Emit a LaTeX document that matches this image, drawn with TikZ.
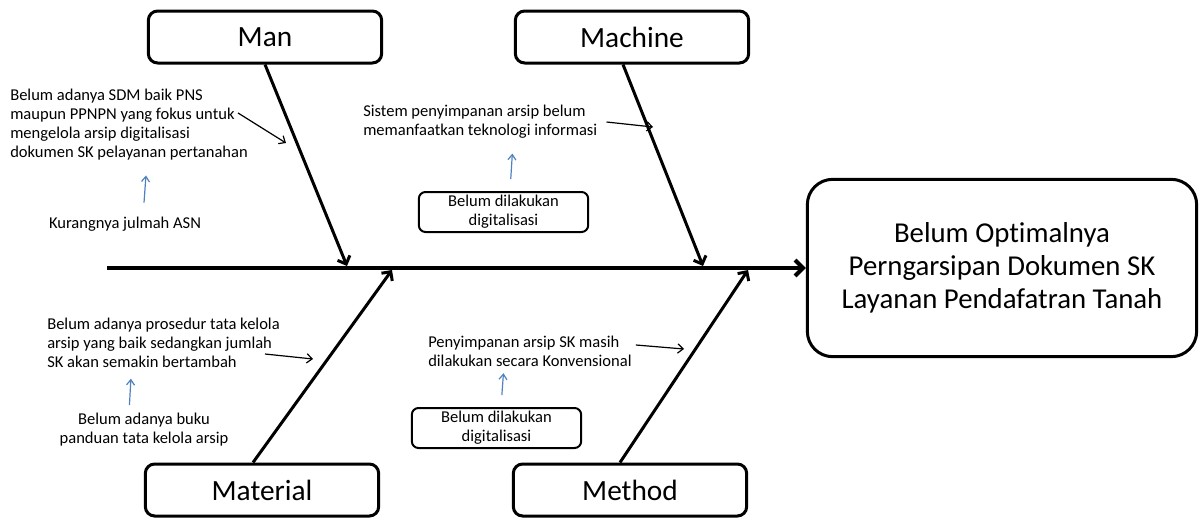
\documentclass[tikz,border=0pt]{standalone}
\usepackage{fontspec}
\setmainfont{Carlito}[Ligatures=NoCommon]
\usetikzlibrary{calc, arrows.meta}
\definecolor{hintblue}{RGB}{79,129,189}

\begin{document}
\begin{tikzpicture}[x=0.75pt, y=-0.75pt,
    catbox/.style={draw, line width=2.25pt, rounded corners=7pt, minimum width=175pt, minimum height=39pt, font=\fontsize{22}{26}\selectfont},
    effectbox/.style={draw, line width=2.25pt, rounded corners=19pt, minimum width=292pt, minimum height=133pt, align=center, font=\fontsize{21.6}{24.75}\selectfont},
    subbox/.style={draw, line width=1.5pt, rounded corners=5pt, minimum width=127pt, minimum height=30pt, align=center, inner sep=1pt, font=\fontsize{12.4}{14.25}\selectfont},
    cause/.style={inner sep=0pt, font=\fontsize{12.4}{14.25}\selectfont},
    spine/.style={line width=3pt, -{Straight Barb[length=6pt, width=12pt]}},
    bone/.style={line width=2.25pt, -{Straight Barb[length=5pt, width=10pt]}},
    note/.style={line width=0.9pt, -{Straight Barb[length=4pt, width=7pt]}},
    hint/.style={line width=0.9pt, hintblue, -{Straight Barb[length=4pt, width=6pt]}}]
    \useasboundingbox (0,0) rectangle (1200,518);

    % Effect box and the main spine
    \node[effectbox] (effect) at (1002,268) {Belum Optimalnya\\Perngarsipan Dokumen SK\\Layanan Pendafatran Tanah};
    \coordinate (tail) at (107,268);
    \draw[spine] (tail) -- (effect.west);

    % Category boxes
    \foreach \name/\x/\y/\txt in {man/265/37/Man, machine/632/37/Machine, material/262/490/Material, method/630/490/Method} {
        \node[catbox] (\name) at (\x,\y) {\txt};
    }

    % Bones into the spine
    \coordinate (manhit) at (347,266);
    \coordinate (machinehit) at (703,266);
    \coordinate (materialhit) at (392,270);
    \coordinate (methodhit) at (748,270);
    \draw[bone] (man.south) -- (manhit);
    \draw[bone] ($(machine.south)+(-9,0)$) -- (machinehit);
    \draw[bone] ($(material.north)+(-9,0)$) -- (materialhit);
    \draw[bone] ($(method.north)+(-10,0)$) -- (methodhit);

    % Causes: Man
    \node[cause, align=left, anchor=west] (mancause) at (10,125) {Belum adanya SDM baik PNS\\maupun PPNPN yang fokus untuk\\mengelola arsip digitalisasi\\dokumen SK pelayanan pertanahan};
    \node[cause] (asn) at (125,224) {Kurangnya julmah ASN};
    \coordinate (manpt) at (286,143);
    \draw[note] ($(mancause.east)+(-10,-12)$) -- (manpt);
    \draw[hint, shorten <=10.5pt, shorten >=11pt] ($(asn.north)+(18,0)$) -- ($(mancause.south)+(18,0)$);

    % Causes: Machine
    \node[cause, align=left, anchor=west] (machinecause) at (363,122) {Sistem penyimpanan arsip belum\\memanfaatkan teknologi informasi};
    \node[subbox] (machinesub) at (503.5,212) {Belum dilakukan\\digitalisasi};
    \coordinate (machinept) at (653,127);
    \draw[note] ($(machinecause.east)+(9,0)$) -- (machinept);
    \draw[hint, shorten <=9pt, shorten >=11pt] ($(machinesub.north)+(6.5,0)$) -- ($(machinecause.south)+(33,0)$);

    % Causes: Material
    \node[cause, align=left, anchor=west] (materialcause) at (47,343) {Belum adanya prosedur tata kelola\\arsip yang baik sedangkan jumlah\\SK akan semakin bertambah};
    \node[cause, align=center] (buku) at (144,430) {Belum adanya buku\\panduan tata kelola arsip};
    \coordinate (materialpt) at (313,359);
    \draw[note] ($(materialcause.east)+(-15,11)$) -- (materialpt);
    \draw[hint, shorten <=6pt, shorten >=8pt] ($(buku.north)+(-15,0)$) -- ($(materialcause.south)+(-32,0)$);

    % Causes: Method
    \node[cause, align=left, anchor=west] (methodcause) at (428,351) {Penyimpanan arsip SK masih\\dilakukan secara Konvensional};
    \node[subbox] (methodsub) at (496.5,428) {Belum dilakukan\\digitalisasi};
    \coordinate (methodpt) at (684,349);
    \draw[note] ($(methodcause.east)+(4,-6)$) -- (methodpt);
    \draw[hint, shorten <=9pt, shorten >=5pt] ($(methodsub.north)+(4.5,0)$) -- ($(methodcause.south)+(-26,0)$);

\end{tikzpicture}
\end{document}
